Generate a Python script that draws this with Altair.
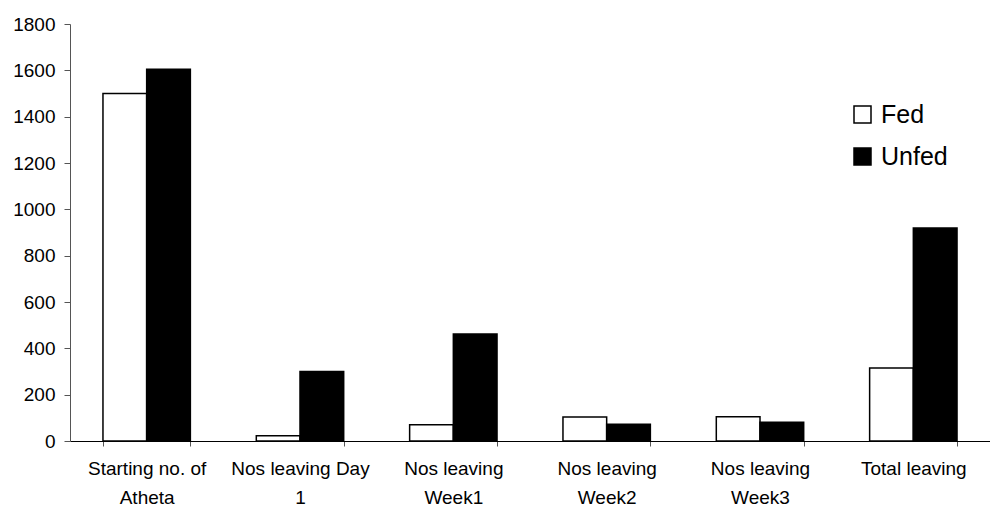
import altair as alt
import pandas as pd

categories = [
    "Starting no. of|Atheta",
    "Nos leaving Day|1",
    "Nos leaving|Week1",
    "Nos leaving|Week2",
    "Nos leaving|Week3",
    "Total leaving",
]
fed = [1500, 23, 70, 104, 105, 315]
unfed = [1605, 300, 462, 72, 81, 919]
groups = ["Fed", "Unfed"]

rows = []
for c, f, u in zip(categories, fed, unfed):
    rows.append({"category": c, "group": "Fed", "value": f})
    rows.append({"category": c, "group": "Unfed", "value": u})
df = pd.DataFrame(rows)

FONT = "Liberation Sans"

bars = alt.Chart(df).mark_bar(stroke="black", strokeWidth=1.5).encode(
    x=alt.X(
        "category:N",
        sort=categories,
        title=None,
        scale=alt.Scale(paddingInner=0.43, paddingOuter=0.215),
        axis=alt.Axis(
            labelAngle=0,
            labelExpr="split(datum.label, '|')",
            labelFont=FONT,
            labelFontSize=19,
            labelColor="black",
            labelLineHeight=29,
            labelPadding=13,
            tickBand="extent",
            tickSize=5,
            tickColor="#555",
            domainColor="black",
            labelLimit=200,
        ),
    ),
    xOffset=alt.XOffset("group:N", sort=groups),
    y=alt.Y(
        "value:Q",
        title=None,
        scale=alt.Scale(domain=[0, 1800], nice=False),
        axis=alt.Axis(
            values=list(range(0, 1801, 200)),
            format="d",
            grid=False,
            labelFont=FONT,
            labelFontSize=19,
            labelColor="black",
            labelPadding=9,
            tickSize=6,
            tickColor="#555",
            domainColor="#555",
        ),
    ),
    fill=alt.Fill(
        "group:N",
        sort=groups,
        scale=alt.Scale(domain=groups, range=["white", "black"]),
        legend=alt.Legend(
            title=None,
            orient="none",
            legendX=780,
            legendY=78,
            symbolType="square",
            symbolSize=289,
            symbolStrokeColor="black",
            symbolStrokeWidth=1.5,
            labelFont=FONT,
            labelFontSize=25,
            labelColor="black",
            labelOffset=6,
            rowPadding=16,
            padding=0,
        ),
    ),
)

chart = bars.properties(
    width=920,
    height=417,
    padding={"left": 70, "top": 24, "right": 0, "bottom": 67},
    autosize=alt.AutoSizeParams(type="none"),
    background="white",
).configure_view(stroke=None)

chart.save("out.html", embed_options={"renderer": "svg", "actions": False})
